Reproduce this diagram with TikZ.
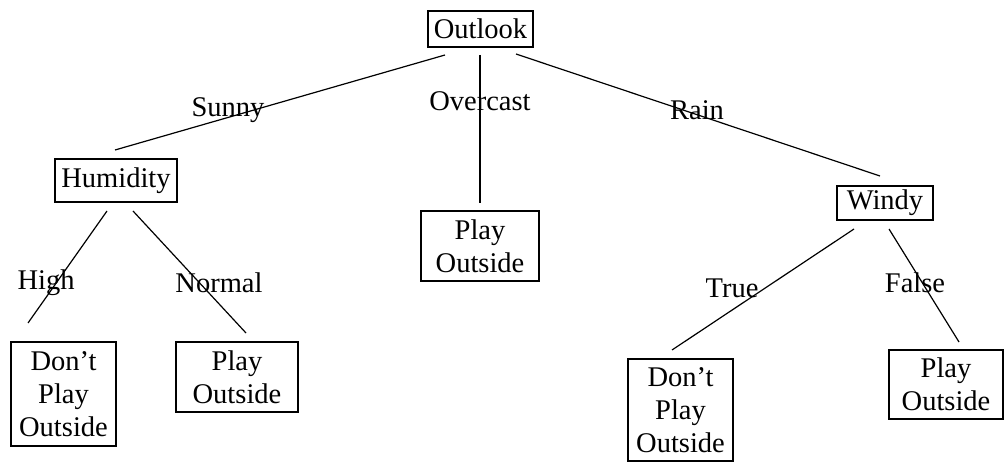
\documentclass[tikz,border=0pt]{standalone}
\usepackage{fontspec}
\setmainfont{Liberation Serif}
\begin{document}
\begin{tikzpicture}[x=1pt,y=-1pt,
  txt/.style={font=\fontsize{28.5}{33}\selectfont, inner sep=0pt, align=center},
  box/.style={txt, draw, line width=1.6pt},
  edge/.style={line width=1.2pt},
  lbl/.style={txt}]
\useasboundingbox (0,0) rectangle (1004,462);

% decision and leaf boxes
\node[box, minimum width=105pt, minimum height=36pt] (outlook) at (480.5,29) {Outlook};
\node[box, minimum width=122pt, minimum height=43pt] (humidity) at (116,180.5) {Humidity};
\node[box, minimum width=96pt, minimum height=34pt] (windy) at (885,203) {Windy};
\node[box, minimum width=105pt, minimum height=104pt] (dontA) at (63.5,394) {Don't\\Play\\Outside};
\node[box, minimum width=122pt, minimum height=70pt] (playA) at (237,377) {Play\\Outside};
\node[box, minimum width=118pt, minimum height=70pt] (playB) at (480,246) {Play\\Outside};
\node[box, minimum width=105pt, minimum height=102pt] (dontB) at (680.5,410) {Don't\\Play\\Outside};
\node[box, minimum width=114pt, minimum height=69pt] (playC) at (946,384.5) {Play\\Outside};

% free ends of the branch lines
\coordinate (o1) at (445,55);   \coordinate (h0) at (115,150);
\coordinate (o2) at (480,55);   \coordinate (p0) at (480,203);
\coordinate (o3) at (516,54);   \coordinate (w0) at (880,176);
\coordinate (h1) at (107,211);  \coordinate (d0) at (28,323);
\coordinate (h2) at (133,211);  \coordinate (q0) at (246,333);
\coordinate (w1) at (854,229);  \coordinate (e0) at (672,350);
\coordinate (w2) at (889,229);  \coordinate (r0) at (959,342);

\draw[edge] (o1) -- (h0);
\draw[edge] (o2) -- (p0);
\draw[edge] (o3) -- (w0);
\draw[edge] (h1) -- (d0);
\draw[edge] (h2) -- (q0);
\draw[edge] (w1) -- (e0);
\draw[edge] (w2) -- (r0);

% branch labels
\node[lbl] (sunny) at (228,110) {Sunny};
\node[lbl] (overcast) at (480,101) {Overcast};
\node[lbl] (rain) at (697,110) {Rain};
\node[lbl] (high) at (46,283) {High};
\node[lbl] (normal) at (219,283) {Normal};
\node[lbl] (true) at (732,288) {True};
\node[lbl] (false) at (915,283) {False};
\end{tikzpicture}
\end{document}
